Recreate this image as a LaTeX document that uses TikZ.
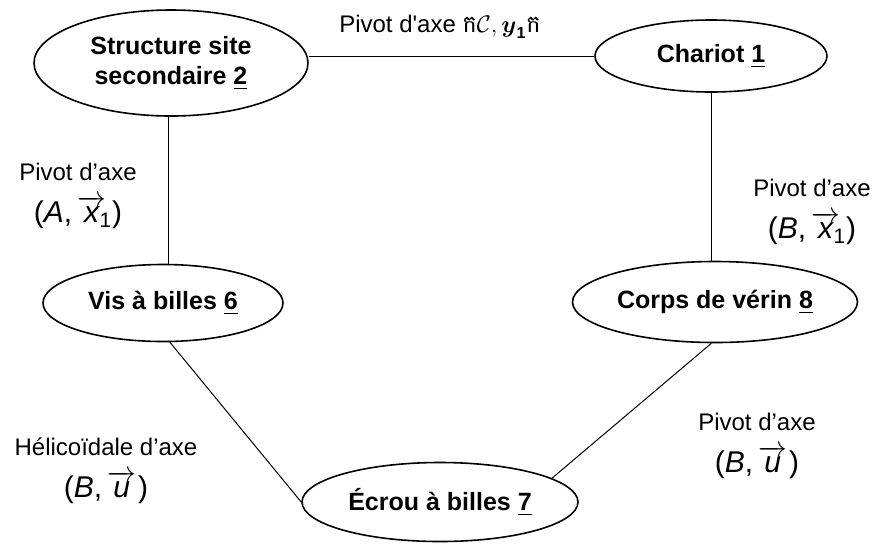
\documentclass[tikz,border=0pt]{standalone}
\usepackage{amsmath,amssymb}
\usepackage{fontspec}
\setmainfont{Liberation Sans}
\newfontfamily\rawsans{Liberation Sans}[Ligatures=TeXOff]
\newfontfamily\khmerfont[Script=Khmer]{Battambang}
\usetikzlibrary{shapes.geometric,positioning}
\newcommand{\vect}[1]{\overrightarrow{\mbox{\itshape #1}}\mkern-4mu}
\newcommand{\axe}[1]{{\fontsize{15}{18}\selectfont #1}}

\begin{document}
\begin{tikzpicture}[x=0.5pt,y=-0.5pt,
  piece/.style={draw,ellipse,thick,align=center,inner sep=0pt,font=\fontsize{12.5}{15}\selectfont\bfseries},
  liaison/.style={align=center,font=\large},
  lien/.style={line width=0.5pt}]
\useasboundingbox (0,0) rectangle (885,543);
% pieces
\node[piece,minimum width=137pt,minimum height=53pt] (struct) at (171,63) {Structure site\\ secondaire \underline{2}};
\node[piece,minimum width=116pt,minimum height=36pt] (chariot) at (711,56) {Chariot \underline{1}};
\node[piece,minimum width=120pt,minimum height=38.5pt] (vis) at (163,303) {Vis \`a billes \underline{6}};
\node[piece,minimum width=142.5pt,minimum height=40.5pt] (corps) at (715,302) {Corps de v\'erin \underline{8}};
\node[piece,minimum width=138pt,minimum height=39.5pt] (ecrou) at (440,502) {\'Ecrou \`a billes \underline{7}};
% liaisons
\node[liaison] (l12) at (440,27) {Pivot d{\rawsans'}axe {\khmerfont ក}$\mathcal{C},\boldsymbol{y}_{\mathbf{1}}${\khmerfont ក}};
\node[liaison] (l26) at (78,196) {Pivot d'axe\\[7pt] \axe{(\textit{A},\,$\vect{x}_{\text{1}}$)}};
\node[liaison] (l18) at (812,212) {Pivot d'axe\\[7pt] \axe{(\textit{B},\,$\vect{x}_{\text{1}}$)}};
\node[liaison] (l67) at (106,471) {H\'elico\"idale d'axe\\[7pt] \axe{(\textit{B},\,$\vect{u}$\;)}};
\node[liaison] (l78) at (757,446) {Pivot d'axe\\[7pt] \axe{(\textit{B},\,$\vect{u}$\;)}};
\draw[lien] (chariot.west) -- (chariot.west -| struct.east);
\draw[lien] (struct.south) ++(-3,0) coordinate (s2) -- (s2 |- vis.north);
\draw[lien] (chariot.south) -- (chariot.south |- corps.north);
\draw[lien] (vis.-80) -- (ecrou.west);
\draw[lien] (corps.-95) -- (ecrou.12);
\end{tikzpicture}
\end{document}
